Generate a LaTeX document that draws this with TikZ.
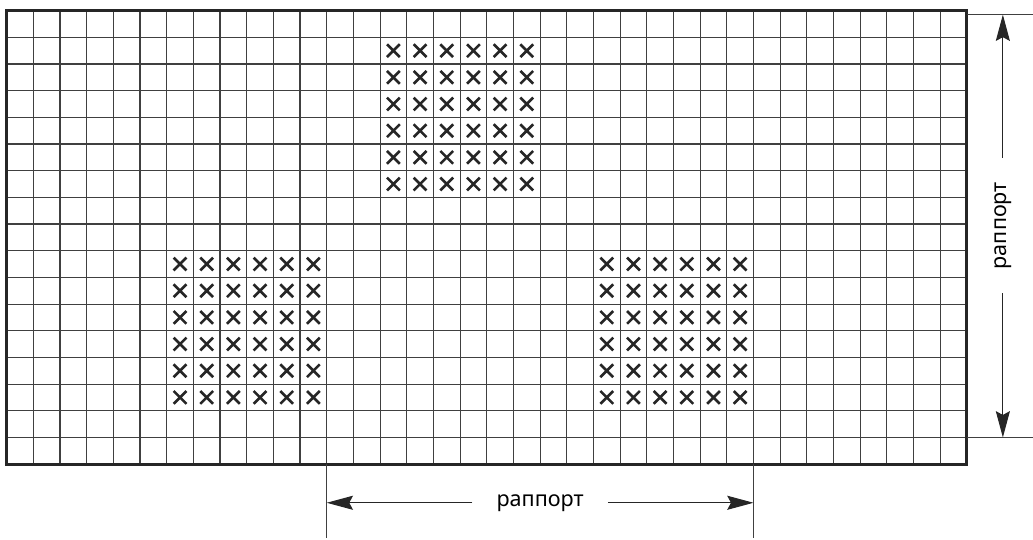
\documentclass[tikz,border=0pt]{standalone}
\usepackage{fontspec}
\setmainfont{Noto Sans}
\usetikzlibrary{arrows.meta}

\begin{document}
\begin{tikzpicture}[x=0.5cm,y=0.5cm,
  gridline/.style={line width=0.6pt,black!75},
  frame/.style={line width=1.5pt,black!85},
  stitch/.style={line width=1.4pt,black!85},
  extline/.style={line width=0.5pt,black!75},
  dimline/.style={line width=0.55pt,black!85,-{Stealth[length=14pt,width=7.5pt,inset=2pt]}},
  dimlabel/.style={inner xsep=12.7pt,inner ysep=2pt,font=\fontsize{11.5}{13}\selectfont}]
\useasboundingbox (-0.25,-2.84) rectangle (38.48,17.4);
% canvas
\draw[gridline,step=0.5cm] (0,0) grid (36,17);
\draw[frame] (0,0) rectangle (36,17);
% stitched blocks, 6x6 each
\foreach \bx/\by in {14/10, 6/2, 22/2}
  \foreach \i in {0,...,5}
    \foreach \j in {0,...,5}
      \draw[stitch] (\bx+\i+0.26,\by+\j+0.26) -- (\bx+\i+0.74,\by+\j+0.74)
                    (\bx+\i+0.26,\by+\j+0.74) -- (\bx+\i+0.74,\by+\j+0.26);
% horizontal repeat
\coordinate (hatop) at (12,0);
\coordinate (habot) at (12,-2.76);
\coordinate (hbtop) at (28,0);
\coordinate (hbbot) at (28,-2.76);
\coordinate (hl) at (12,-1.45);
\coordinate (hr) at (28,-1.45);
\node[dimlabel] (hlab) at (20,-1.45) {раппорт};
\draw[extline] (hatop) -- (habot);
\draw[extline] (hbtop) -- (hbbot);
\draw[dimline] (hlab.west) -- (hl);
\draw[dimline] (hlab.east) -- (hr);
% vertical repeat
\coordinate (valeft) at (36,16.85);
\coordinate (varight) at (38.48,16.85);
\coordinate (vbleft) at (36,1);
\coordinate (vbright) at (38.48,1);
\coordinate (vt) at (37.35,16.85);
\coordinate (vb) at (37.35,1);
\node[dimlabel,rotate=90] (vlab) at (37.35,8.94) {раппорт};
\draw[extline] (valeft) -- (varight);
\draw[extline] (vbleft) -- (vbright);
\draw[dimline] (vlab.east) -- (vt);
\draw[dimline] (vlab.west) -- (vb);
\end{tikzpicture}
\end{document}
